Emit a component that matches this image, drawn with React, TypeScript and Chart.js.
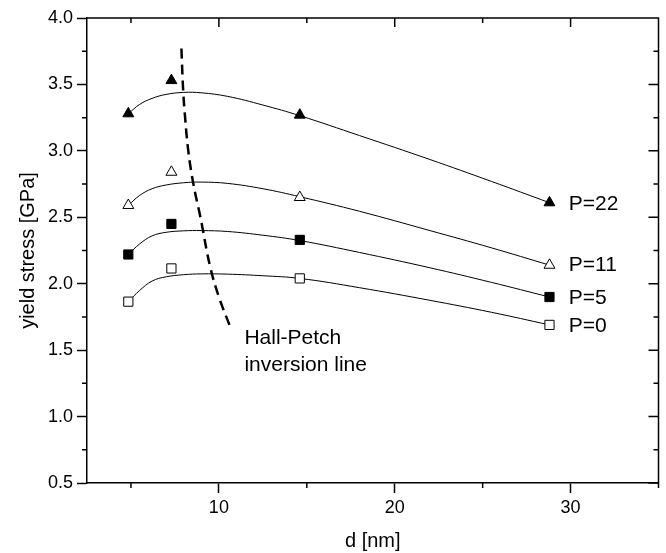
import React, { useEffect, useRef } from 'react';
import { Chart, registerables } from 'chart.js';

Chart.register(...registerables);

// grain size d [nm] of the measured points
const dNm = [4.85, 7.3, 14.6, 28.8];
// measured yield stress [GPa]
const stressP22 = [3.28, 3.53, 3.27, 2.61];
const stressP11 = [2.59, 2.84, 2.65, 2.14];
const stressP5 = [2.22, 2.45, 2.33, 1.9];
const stressP0 = [1.865, 2.115, 2.04, 1.69];

// fitted curves
const fitD = [4.85, 5.5, 6.2, 7.0, 8.0, 9.0, 10.5, 12.5, 14.6, 18, 22, 25.5, 28.8];
const fitP22 = [3.28, 3.35, 3.395, 3.425, 3.44, 3.437, 3.41, 3.345, 3.265, 3.115, 2.935, 2.77, 2.61];
const fitP11 = [2.59, 2.665, 2.715, 2.743, 2.76, 2.765, 2.755, 2.715, 2.655, 2.545, 2.4, 2.27, 2.14];
const fitP5 = [2.22, 2.3, 2.36, 2.387, 2.398, 2.4, 2.393, 2.365, 2.325, 2.235, 2.12, 2.01, 1.9];
const fitP0 = [1.865, 1.95, 2.02, 2.052, 2.068, 2.074, 2.072, 2.06, 2.04, 1.97, 1.875, 1.785, 1.69];

// Hall-Petch inversion line
const hpD = [7.87, 7.97, 8.08, 8.26, 8.55, 8.95, 9.5, 10.0, 10.6];
const hpY = [3.77, 3.45, 3.25, 3.0, 2.75, 2.5, 2.13, 1.9, 1.69];

// series labels
const seriesLabels = ['P=22', 'P=11', 'P=5', 'P=0'];
const labelD = [29.9, 29.9, 29.9, 29.9];
const labelY = [2.6, 2.14, 1.89, 1.68];

// note text
const noteLines = ['Hall-Petch', 'inversion line'];
const noteD = [11.45, 11.45];
const noteY = [1.59, 1.39];

// axes
const xMin = 2.5;
const xMax = 35;
const xMajor = [10, 20, 30];
const xMinor = [5, 15, 25, 35];
const yMin = 0.5;
const yMax = 4.0;
const yMajor = [0.5, 1.0, 1.5, 2.0, 2.5, 3.0, 3.5, 4.0];
const yMinor = [0.75, 1.25, 1.75, 2.25, 2.75, 3.25, 3.75];

const FONT = "'Liberation Sans', Arial, Helvetica, sans-serif";

const toXY = (xs: number[], ys: number[]) => xs.map((x, i) => ({ x, y: ys[i] }));

const framePlugin = {
  id: 'frame',
  afterDatasetsDraw(chart: any) {
    const { ctx, chartArea: a, scales } = chart;
    const x = scales.x;
    const y = scales.y;
    ctx.save();
    ctx.strokeStyle = '#000';
    ctx.lineWidth = 1.5;
    ctx.beginPath();
    ctx.moveTo(a.left, a.top);
    ctx.lineTo(a.right, a.top);
    ctx.lineTo(a.right, a.bottom);
    // top axis inward ticks
    for (const v of xMajor) {
      const px = x.getPixelForValue(v);
      ctx.moveTo(px, a.top);
      ctx.lineTo(px, a.top + 9);
    }
    for (const v of xMinor) {
      const px = x.getPixelForValue(v);
      ctx.moveTo(px, a.top);
      ctx.lineTo(px, a.top + 5);
    }
    // bottom minor ticks outward
    for (const v of xMinor) {
      const px = x.getPixelForValue(v);
      ctx.moveTo(px, a.bottom);
      ctx.lineTo(px, a.bottom + 5);
    }
    // right axis inward ticks
    for (const v of yMajor) {
      const py = y.getPixelForValue(v);
      ctx.moveTo(a.right, py);
      ctx.lineTo(a.right - 10, py);
    }
    for (const v of yMinor) {
      const py = y.getPixelForValue(v);
      ctx.moveTo(a.right, py);
      ctx.lineTo(a.right - 5, py);
      // left minor ticks outward
      ctx.moveTo(a.left, py);
      ctx.lineTo(a.left - 5, py);
    }
    ctx.stroke();

    ctx.fillStyle = '#000';
    ctx.font = `21px ${FONT}`;
    ctx.textAlign = 'left';
    ctx.textBaseline = 'middle';
    seriesLabels.forEach((t, i) => {
      ctx.fillText(t, x.getPixelForValue(labelD[i]), y.getPixelForValue(labelY[i]));
    });
    noteLines.forEach((t, i) => {
      ctx.fillText(t, x.getPixelForValue(noteD[i]), y.getPixelForValue(noteY[i]));
    });
    ctx.restore();
  },
};

const markerSet = (data: number[], style: string, filled: boolean, radius: number) => ({
  data: toXY(dNm, data),
  showLine: false,
  pointStyle: style,
  pointRadius: radius,
  pointBackgroundColor: filled ? '#000' : '#fff',
  pointBorderColor: '#000',
  pointBorderWidth: 1,
});

const curveSet = (ys: number[]) => ({
  data: toXY(fitD, ys),
  showLine: true,
  pointRadius: 0,
  borderColor: '#000',
  borderWidth: 1,
  tension: 0.4,
});

export default function App() {
  const ref = useRef<HTMLCanvasElement | null>(null);
  useEffect(() => {
    if (!ref.current) return;
    const tickGrid = {
      display: true,
      drawOnChartArea: false,
      drawTicks: true,
      tickLength: 10,
      tickColor: '#000',
      tickWidth: 1.5,
    };
    const chart = new Chart(ref.current, {
      type: 'scatter',
      data: {
        datasets: [
          markerSet(stressP22, 'triangle', true, 6.3),
          markerSet(stressP11, 'triangle', false, 6.3),
          markerSet(stressP5, 'rect', true, 6.5),
          markerSet(stressP0, 'rect', false, 6.5),
          curveSet(fitP22),
          curveSet(fitP11),
          curveSet(fitP5),
          curveSet(fitP0),
          {
            data: toXY(hpD, hpY),
            showLine: true,
            pointRadius: 0,
            borderColor: '#000',
            borderWidth: 2.5,
            borderDash: [10, 6],
            tension: 0.4,
          },
        ] as any,
      },
      options: {
        animation: false,
        responsive: false,
        layout: { padding: { top: 18, right: 6, left: 0, bottom: 0 } },
        plugins: { legend: { display: false }, tooltip: { enabled: false } },
        scales: {
          x: {
            type: 'linear',
            min: xMin,
            max: xMax,
            afterBuildTicks: (s: any) => {
              s.ticks = xMajor.map((v) => ({ value: v }));
            },
            afterFit: (s: any) => {
              s.height = 70;
            },
            grid: tickGrid,
            border: { display: true, color: '#000', width: 1.5 },
            ticks: {
              color: '#000',
              font: { family: FONT, size: 18 },
              padding: 4,
              maxRotation: 0,
              callback: (v: any) => String(v),
            },
            title: {
              display: true,
              text: 'd [nm]',
              color: '#000',
              font: { family: FONT, size: 20 },
              padding: { top: 0, bottom: 0 },
            },
          },
          y: {
            type: 'linear',
            min: yMin,
            max: yMax,
            afterBuildTicks: (s: any) => {
              s.ticks = yMajor.map((v) => ({ value: v }));
            },
            afterFit: (s: any) => {
              s.width = 87;
            },
            grid: tickGrid,
            border: { display: true, color: '#000', width: 1.5 },
            ticks: {
              color: '#000',
              font: { family: FONT, size: 18 },
              padding: 4,
              callback: (v: any) => Number(v).toFixed(1),
            },
            title: {
              display: true,
              text: 'yield stress [GPa]',
              color: '#000',
              font: { family: FONT, size: 20 },
              padding: { top: 16, bottom: 0 },
            },
          },
        },
      },
      plugins: [framePlugin],
    } as any);
    return () => chart.destroy();
  }, []);
  return (
    <div style={{ position: 'absolute', left: 0, top: 0, width: 666, height: 553, background: '#fff' }}>
      <canvas ref={ref} width={666} height={553} style={{ display: 'block' }} />
    </div>
  );
}
